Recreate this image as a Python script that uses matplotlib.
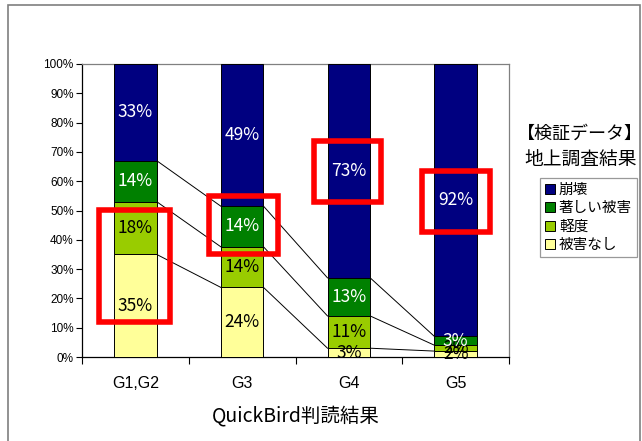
import matplotlib
matplotlib.use("Agg")
import matplotlib.pyplot as plt
from matplotlib.patches import Rectangle, Patch
import numpy as np

plt.rcParams['font.family'] = ['Noto Sans CJK JP', 'DejaVu Sans']

categories = ["G1,G2", "G3", "G4", "G5"]
series_names = ["被害なし", "軽度", "著しい被害", "崩壊"]
none_vals = [35, 24, 3, 2]
light_vals = [18, 14, 11, 2]
severe_vals = [14, 14, 13, 3]
collapse_vals = [33, 49, 73, 92]
colors = ["#FFFF99", "#99CC00", "#008000", "#000080"]
text_colors = ["black", "black", "white", "white"]
yticks = [0, 10, 20, 30, 40, 50, 60, 70, 80, 90, 100]
xlabel = "QuickBird判読結果"
legend_title = ["【検証データ】", "地上調査結果"]

W, H = 642, 441
fig = plt.figure(figsize=(W / 100, H / 100), dpi=100)
ax = fig.add_axes([82 / W, 1 - 357 / H, (509 - 82) / W, (357 - 64) / H])

data = np.array([none_vals, light_vals, severe_vals, collapse_vals], dtype=float)
totals = data.sum(axis=0)
pct = data / totals * 100
x = np.arange(len(categories))
bw = 0.40
bottom = np.zeros(len(categories))
tops = []
for i, name in enumerate(series_names):
    ax.bar(x, pct[i], bw, bottom=bottom, color=colors[i], edgecolor="black",
           linewidth=0.7, label=name, zorder=3)
    for j in range(len(categories)):
        ax.text(x[j], bottom[j] + pct[i][j] / 2, f"{int(data[i][j])}%", ha="center",
                va="center", color=text_colors[i], fontsize=12.5, zorder=5)
    bottom = bottom + pct[i]
    tops.append(bottom.copy())

# series lines (Excel style)
for k in range(3):
    for j in range(len(categories) - 1):
        ax.plot([x[j] + bw / 2, x[j + 1] - bw / 2], [tops[k][j], tops[k][j + 1]],
                color="black", linewidth=0.7, zorder=2)

ax.set_xlim(-0.5, len(categories) - 0.5)
ax.set_ylim(0, 100)
ax.set_yticks(yticks)
ax.set_yticklabels([f"{v}%" for v in yticks], fontsize=8.5, family=['Liberation Sans'])
ax.set_xticks(np.arange(-0.5, len(categories), 1.0))
ax.set_xticklabels([])
ax.set_xticks(x, minor=True)
ax.set_xticklabels(categories, minor=True, fontsize=11.5, family=['Liberation Sans'])
ax.tick_params(axis="x", which="minor", length=0, pad=14)
ax.tick_params(axis="x", which="major", length=5, direction="out", width=0.8)
ax.tick_params(axis="y", length=4, direction="out", width=0.8, pad=2)
ax.spines["top"].set_color("#808080")
ax.spines["right"].set_color("#808080")
ax.spines["left"].set_color("black")
ax.spines["bottom"].set_color("black")
for s in ax.spines.values():
    s.set_linewidth(0.9)
ax.set_xlabel(xlabel, fontsize=14, labelpad=10)

# red highlight boxes (annotation)
boxes = [(-0.345, 12.1, 0.665, 38.0), (0.69, 35.0, 0.645, 20.1),
         (1.675, 53.0, 0.63, 20.6), (2.685, 42.8, 0.64, 20.6)]
for (bx, by, bwid, bh) in boxes:
    ax.add_patch(Rectangle((bx, by), bwid, bh, fill=False, edgecolor="#FF0000",
                           linewidth=4, zorder=6, clip_on=False))

# legend title texts
fig.text(580 / W, 1 - 134 / H, legend_title[0], ha="center", va="center", fontsize=13)
fig.text(581 / W, 1 - 159 / H, legend_title[1], ha="center", va="center", fontsize=13.5)

handles = [Patch(facecolor=colors[i], edgecolor="black", linewidth=0.7, label=series_names[i])
           for i in range(3, -1, -1)]
leg = fig.legend(handles=handles, loc="upper left", bbox_to_anchor=(540 / W, 1 - 178 / H),
                 fontsize=10.5, frameon=True, fancybox=False, edgecolor="#808080",
                 handlelength=0.65, handleheight=0.65, handletextpad=0.3,
                 borderpad=0.35, labelspacing=0.3, borderaxespad=0)
leg.get_frame().set_linewidth(0.9)

# outer frame
fig.patches.append(Rectangle((8 / W, -0.05), (640 - 8) / W, 1.05 - 5 / H, fill=False,
                             edgecolor="#7f7f7f", linewidth=1.2, transform=fig.transFigure))

fig.savefig("out.png", dpi=100)
